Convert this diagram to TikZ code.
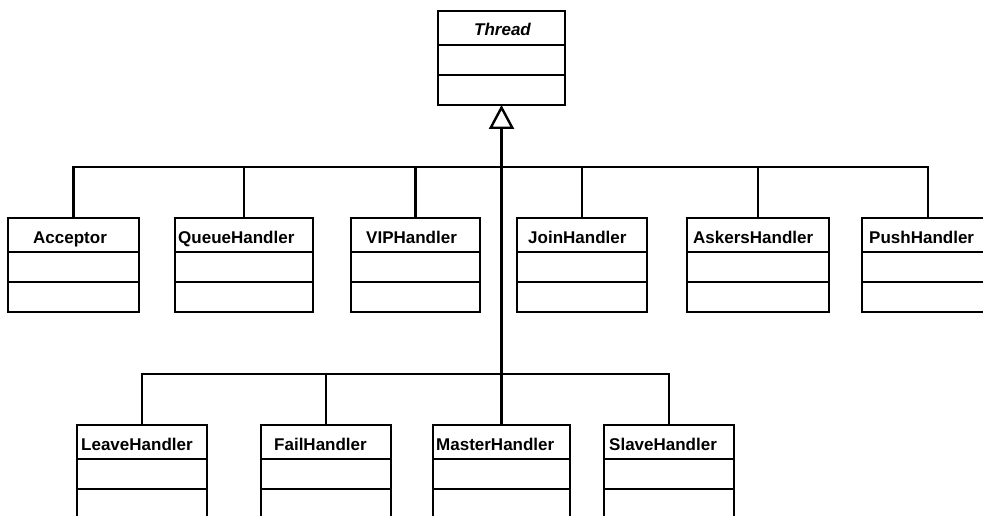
\documentclass[tikz,border=0pt]{standalone}
\usepackage{fontspec}
\setmainfont{Liberation Sans}
\usetikzlibrary{arrows.meta}

\tikzset{
  classframe/.style={draw, line width=2.6pt, inner sep=0pt, outer sep=0pt, anchor=north west},
  compartment/.style={line width=2.6pt},
  classname/.style={font=\fontsize{17}{20}\selectfont\bfseries, inner sep=0pt, anchor=base west},
  inherit/.style={line width=2.3pt},
  trunk/.style={line width=3.2pt},
}

% #1 name, #2 left, #3 right, #4 top, #5 bottom, #6 label x, #7 label
\newcommand\umlclass[7]{%
  \node[classframe, minimum width={(#3-#2)*1pt}, minimum height={(#5-#4)*1pt}] (#1) at (#2,#4) {};
  \draw[compartment] ([yshift=-34pt]#1.north west) -- ([yshift=-34pt]#1.north east);
  \draw[compartment] ([yshift=-64pt]#1.north west) -- ([yshift=-64pt]#1.north east);
  \node[classname] (#1-name) at ([xshift={(#6-#2)*1pt}, yshift=-25pt]#1.north west) {#7};
}

\begin{document}
\begin{tikzpicture}[x=1pt, y=-1pt]
  \useasboundingbox (0,0) rectangle (983,516);
  \clip (0,0) rectangle (983,516);

  % base class
  \umlclass{Thread}{438}{565}{11}{105}{474}{\itshape Thread}

  % first row of subclasses
  \umlclass{Acceptor}{8}{139}{218}{312}{33}{Acceptor}
  \umlclass{QueueHandler}{175}{313}{218}{312}{178}{QueueHandler}
  \umlclass{VIPHandler}{351}{480}{218}{312}{366}{VIPHandler}
  \umlclass{JoinHandler}{517}{647}{218}{312}{528}{JoinHandler}
  \umlclass{AskersHandler}{687}{829}{218}{312}{693}{AskersHandler}
  \umlclass{PushHandler}{862}{994}{218}{312}{869}{PushHandler}

  % second row of subclasses
  \umlclass{LeaveHandler}{77}{207}{425}{530}{81}{LeaveHandler}
  \umlclass{FailHandler}{261}{391}{425}{530}{274}{FailHandler}
  \umlclass{MasterHandler}{433}{570}{425}{530}{436}{MasterHandler}
  \umlclass{SlaveHandler}{604}{734}{425}{530}{609}{SlaveHandler}

  % bus lines
  \coordinate (bus) at (0,167);
  \coordinate (lowbus) at (0,374);

  % generalisation trunk with hollow triangle
  \draw[trunk, -{Triangle[open, length=24pt, width=25pt, line width=2.4pt]}]
    (MasterHandler.north) -- (Thread.south);

  % upper row connectors
  \draw[inherit] (Acceptor.north) -- (Acceptor.north |- bus)
    -- (PushHandler.north |- bus) -- (PushHandler.north);
  \foreach \c in {QueueHandler, VIPHandler, JoinHandler, AskersHandler}
    \draw[inherit] (\c.north) -- (\c.north |- bus);

  % lower row connectors
  \draw[inherit] (LeaveHandler.north) -- (LeaveHandler.north |- lowbus)
    -- (SlaveHandler.north |- lowbus) -- (SlaveHandler.north);
  \draw[inherit] (FailHandler.north) -- (FailHandler.north |- lowbus);
\end{tikzpicture}
\end{document}
